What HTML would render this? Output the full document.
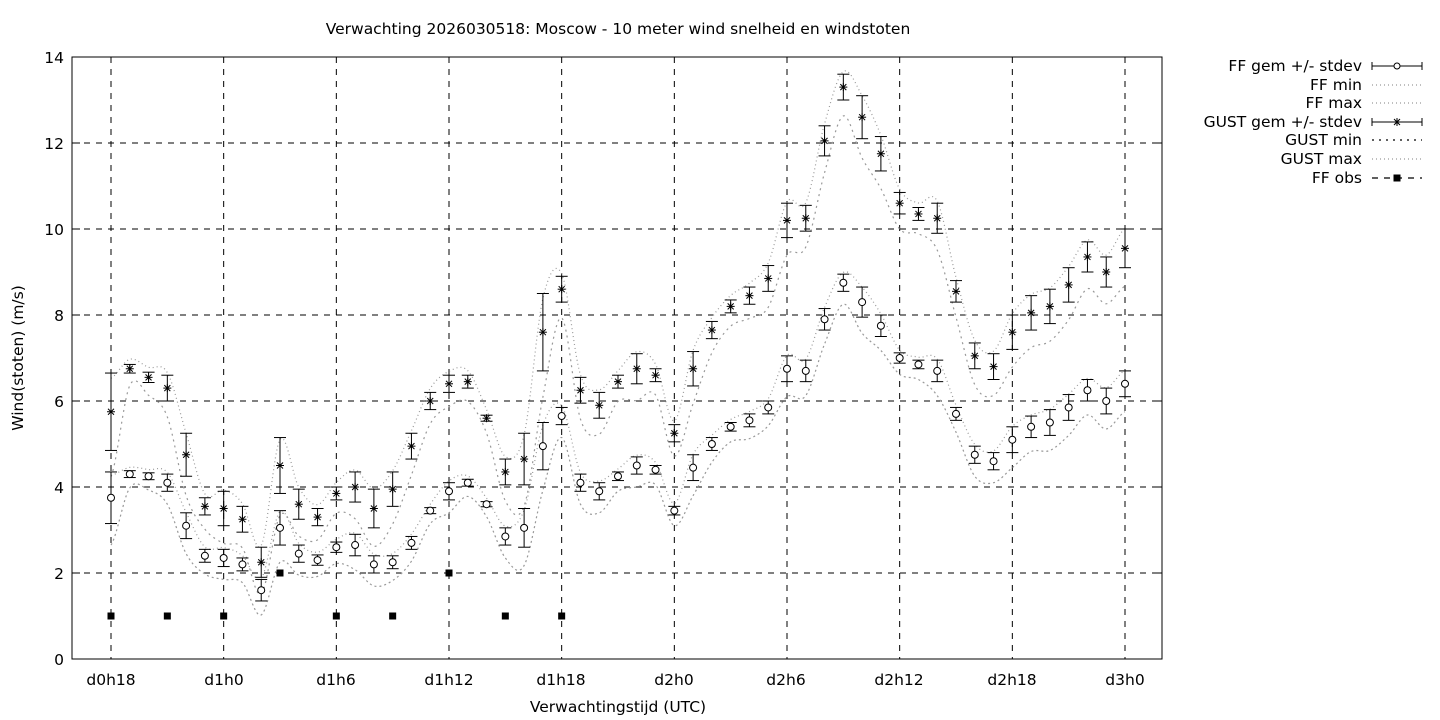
<!DOCTYPE html>
<html><head><meta charset="utf-8"><style>
body{margin:0;background:#fff;}
svg{display:block;font-family:"DejaVu Sans","Liberation Sans",sans-serif;font-size:15.5px;}
</style></head><body>
<svg id="s" width="1440" height="720" xmlns="http://www.w3.org/2000/svg">
<rect width="1440" height="720" fill="#fff"/>
<text x="618" y="34" text-anchor="middle">Verwachting 2026030518: Moscow - 10 meter wind snelheid en windstoten</text>
<text x="618" y="712" text-anchor="middle">Verwachtingstijd (UTC)</text>
<text transform="translate(23,358) rotate(-90)" text-anchor="middle">Wind(stoten) (m/s)</text>
<g id="grid"></g>
<g id="data"></g>
<rect x="72" y="57" width="1090" height="602" fill="none" stroke="#000" stroke-width="1"/>
<g text-anchor="end">
<text x="64" y="665">0</text><text x="64" y="579">2</text><text x="64" y="493">4</text><text x="64" y="407">6</text>
<text x="64" y="321">8</text><text x="64" y="235">10</text><text x="64" y="149">12</text><text x="64" y="63">14</text>
</g>
<g text-anchor="middle">
<text x="111" y="685">d0h18</text><text x="224" y="685">d1h0</text><text x="336" y="685">d1h6</text><text x="449" y="685">d1h12</text>
<text x="561" y="685">d1h18</text><text x="674" y="685">d2h0</text><text x="786" y="685">d2h6</text><text x="899" y="685">d2h12</text>
<text x="1012" y="685">d2h18</text><text x="1125" y="685">d3h0</text>
</g>
<g text-anchor="end">
<text x="1362" y="71">FF gem +/- stdev</text><text x="1362" y="90">FF min</text><text x="1362" y="108">FF max</text>
<text x="1362" y="127">GUST gem +/- stdev</text><text x="1362" y="145">GUST min</text><text x="1362" y="164">GUST max</text>
<text x="1362" y="183">FF obs</text>
</g>
<g id="leg"></g>
</svg>
<script>
const NS="http://www.w3.org/2000/svg";
function el(p,t,a){const e=document.createElementNS(NS,t);for(const k in a)e.setAttribute(k,a[k]);p.appendChild(e);return e;}
const X=i=>111+i*(1014/54), Y=v=>659-v*43;
const g=document.getElementById('grid'),d=document.getElementById('data'),L=document.getElementById('leg');
for(let v=2;v<=12;v+=2)el(g,'line',{x1:72,x2:1162,y1:Y(v),y2:Y(v),stroke:'#000','stroke-dasharray':'6,6'});
for(let k=0;k<10;k++){const x=X(k*6);el(g,'line',{x1:x,x2:x,y1:57,y2:659,stroke:'#000','stroke-dasharray':'6,6'});}
for(let v=0;v<=14;v+=2){el(g,'line',{x1:72,x2:80,y1:Y(v),y2:Y(v),stroke:'#000'});el(g,'line',{x1:1154,x2:1162,y1:Y(v),y2:Y(v),stroke:'#000'});}
const ff=[3.75,4.3,4.25,4.1,3.1,2.4,2.35,2.2,1.6,3.05,2.45,2.3,2.6,2.65,2.2,2.25,2.7,3.45,3.9,4.1,3.6,2.85,3.05,4.95,5.65,4.1,3.9,4.25,4.5,4.4,3.45,4.45,5.0,5.4,5.55,5.85,6.75,6.7,7.9,8.75,8.3,7.75,7.0,6.85,6.7,5.7,4.75,4.6,5.1,5.4,5.5,5.85,6.25,6.0,6.4];
const ffs=[.6,.08,.08,.2,.3,.15,.2,.15,.25,.4,.2,.12,.12,.25,.2,.15,.15,.07,.2,.08,.06,.2,.45,.55,.2,.2,.2,.1,.2,.1,.1,.3,.15,.1,.15,.15,.3,.25,.25,.2,.35,.25,.12,.1,.25,.15,.2,.2,.3,.25,.3,.3,.25,.3,.3];
const gu=[5.75,6.75,6.55,6.3,4.75,3.55,3.5,3.25,2.25,4.5,3.6,3.3,3.85,4.0,3.5,3.95,4.95,6.0,6.4,6.45,5.6,4.35,4.65,7.6,8.6,6.25,5.9,6.45,6.75,6.6,5.25,6.75,7.65,8.2,8.45,8.85,10.2,10.25,12.05,13.3,12.6,11.75,10.6,10.35,10.25,8.55,7.05,6.8,7.6,8.05,8.2,8.7,9.35,9.0,9.55];
const gus=[.9,.1,.12,.3,.5,.2,.4,.3,.35,.65,.35,.2,.15,.35,.45,.4,.3,.2,.2,.15,.07,.3,.6,.9,.3,.3,.3,.15,.35,.15,.2,.4,.2,.15,.2,.3,.4,.3,.35,.3,.5,.4,.25,.15,.35,.25,.3,.3,.4,.4,.4,.4,.35,.35,.45];
function curve(vals,dash){let p=`M${X(0)},${Y(vals[0])}`;for(let i=0;i<vals.length-1;i++){const a=vals[Math.max(0,i-1)],b=vals[i],c=vals[i+1],e=vals[Math.min(vals.length-1,i+2)];const h=1014/54;p+=`C${X(i)+h/3},${Y(b+(c-a)/6)} ${X(i+1)-h/3},${Y(c-(e-b)/6)} ${X(i+1)},${Y(c)}`;}
el(d,'path',{d:p,fill:'none',stroke:'#999','stroke-width':1.2,'stroke-dasharray':dash});}
curve(ff.map((v,i)=>v-ffs[i]*1.5-0.2),'2,3');
curve(ff.map((v,i)=>v+ffs[i]*0.7+0.1),'1,3');
curve(gu.map((v,i)=>v-gus[i]*1.4-0.25),'2,4');
curve(gu.map((v,i)=>v+gus[i]*0.7+0.15),'1,3');
function eb(x,v,s){el(d,'line',{x1:x,x2:x,y1:Y(v-s),y2:Y(v+s),stroke:'#000'});for(const w of [v-s,v+s])el(d,'line',{x1:x-6,x2:x+6,y1:Y(w),y2:Y(w),stroke:'#000'});}
function star(x,y){for(const [dx,dy] of [[4,0],[0,4],[3,3],[3,-3]])el(d,'line',{x1:x-dx,x2:x+dx,y1:y-dy,y2:y+dy,stroke:'#000'});}
ff.forEach((v,i)=>{eb(X(i),v,ffs[i]);el(d,'circle',{cx:X(i),cy:Y(v),r:3.5,fill:'#fff',stroke:'#000'});});
gu.forEach((v,i)=>{eb(X(i),v,gus[i]);star(X(i),Y(v));});
const obs=[[0,1],[3,1],[6,1],[9,2],[12,1],[15,1],[18,2],[21,1],[24,1]];
obs.forEach(([i,v])=>el(d,'rect',{x:X(i)-3.5,y:Y(v)-3.5,width:7,height:7,fill:'#000'}));
const ly=[66,85,103,122,140,159,178];
function lline(y,dash,col){const a={x1:1372,x2:1422,y1:y,y2:y,stroke:col||'#000','stroke-width':dash?1.2:1};if(dash)a['stroke-dasharray']=dash;el(L,'line',a);}
lline(ly[0]);for(const x of[1372,1422])el(L,'line',{x1:x,x2:x,y1:ly[0]-4,y2:ly[0]+4,stroke:'#000'});el(L,'circle',{cx:1397,cy:ly[0],r:3,fill:'#fff',stroke:'#000'});
lline(ly[1],'1,3','#999');lline(ly[2],'1,3','#999');
lline(ly[3]);for(const x of[1372,1422])el(L,'line',{x1:x,x2:x,y1:ly[3]-4,y2:ly[3]+4,stroke:'#000'});
{const x=1397,y=ly[3];for(const [dx,dy] of [[4,0],[0,4],[3,3],[3,-3]])el(L,'line',{x1:x-dx,x2:x+dx,y1:y-dy,y2:y+dy,stroke:'#000'});}
lline(ly[4],'2,5','#000');lline(ly[5],'1,3','#999');
lline(ly[6],'6,6','#000');el(L,'rect',{x:1393.5,y:ly[6]-3.5,width:7,height:7,fill:'#000'});
</script>
</body></html>
